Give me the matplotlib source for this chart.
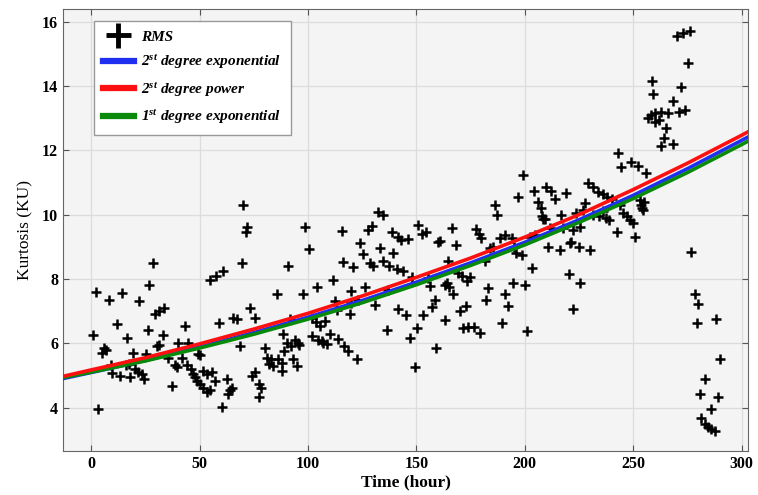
import numpy as np
import matplotlib
matplotlib.use("Agg")
import matplotlib.pyplot as plt

plt.rcParams["font.family"] = ["Liberation Serif", "DejaVu Serif"]
plt.rcParams["mathtext.default"] = "regular"

# RMS kurtosis readings (hour, KU)
rms_t = [
    1.1, 2.3, 3.4, 4.9, 5.8, 6.8, 8.4, 9.2, 9.5, 12.1, 14.1, 13.4, 16.4, 16.0, 17.3, 18.0, 19.2, 20.3, 21.8, 23.4,
    22.3, 24.4, 25.3, 26.4, 26.9, 28.4, 29.5, 31.5, 33.6, 30.4, 31.3, 33.3, 35.6, 37.2, 38.7, 39.5, 40.2, 41.8, 43.3, 44.9,
    44.0, 46.0, 47.0, 48.0, 49.5,
    50.2, 50.2, 51.5, 53.3, 51.6, 53.5, 55.6, 57.0, 48.7, 55.0, 54.8, 57.5, 60.7, 59.1, 60.2, 62.5, 64.0, 63.0, 64.8, 65.6,
    67.1, 68.7, 69.4, 70.2, 71.7, 71.5, 73.3, 75.6, 74.0, 75.5, 77.6, 78.4, 77.6, 80.0, 81.0, 82.0, 83.0, 84.0, 85.6, 86.3,
    87.9, 87.9, 89.0, 90.2, 90.9, 91.7, 94.0, 95.4, 88.5, 92.0, 96.0, 93.0, 95.0,
    98.6, 100.6, 97.8, 104.0, 101.7, 103.5, 105.5, 102.0, 104.5, 106.3, 108.0, 110.0, 107.0, 109.0, 111.4, 112.4, 113.2,
    114.0, 116.5, 118.6, 122.4, 115.5, 116.3, 119.4, 120.0, 123.0, 120.9, 120.0, 126.3, 124.0, 125.2, 127.8, 129.4, 128.6,
    130.1, 130.9, 133.2, 132.4, 134.4, 134.6, 137.5, 139.0, 141.0, 144.0, 138.6, 141.5, 143.0, 146.0, 136.3, 137.0, 141.6,
    145.2, 147.0, 148.2, 149.3,
    150.4, 150.8, 152.5, 154.4, 153.1, 155.4, 156.2, 157.0, 158.5, 159.0, 160.0, 161.0, 163.1, 163.9, 164.6, 166.2, 168.5,
    169.0, 171.0, 173.5, 174.7, 163.0, 165.0, 167.0, 170.0, 173.0, 171.4, 174.0, 176.5, 179.3, 177.7, 179.0, 180.0, 181.6,
    183.0, 182.3, 183.9, 185.4, 186.2, 187.0, 188.5, 190.8, 189.3, 190.8, 192.3, 193.9, 195.0, 196.0, 194.6, 196.9, 199.2,
    198.5,
    200.0, 201.2, 202.3, 204.6, 203.4, 204.3, 206.2, 207.5, 208.0, 208.5, 210.0, 212.0, 213.8, 209.2, 211.5, 210.7, 216.1,
    219.2, 220.7, 220.3, 222.3, 225.3, 216.9, 217.5, 229.0, 231.5, 233.6, 236.0, 238.0, 240.0, 227.6, 226.9, 223.8, 231.5,
    234.0, 236.0, 237.5, 239.0, 243.8, 245.5, 247.0, 248.4, 253.0, 254.5, 253.5, 222.2, 225.3, 242.3, 250.0, 250.7, 221.5,
    225.0, 230.0, 243.0, 244.5, 249.0, 252.0, 256.0,
    270.0, 273.0, 276.0, 275.3, 258.5, 259.0, 272.2, 268.3, 256.7, 258.0, 260.0, 263.0, 266.0, 271.0, 273.7, 260.0, 262.0,
    265.0, 264.0, 263.0, 268.5, 255.0, 254.0, 276.8, 278.3, 279.9, 279.4, 288.3, 289.9, 282.9, 280.9, 289.0, 286.0, 281.4,
    283.0, 284.5, 286.0, 287.6,
]
rms_ku = [
    6.26, 7.6, 3.96, 5.71, 5.85, 5.78, 7.33, 5.33, 5.06, 6.6, 7.57, 4.99, 6.15, 5.33, 5.37, 4.94, 5.71, 5.2, 5.1, 5.05,
    7.31, 4.9, 5.68, 6.4, 7.82, 8.49, 6.9, 7.0, 7.1, 5.92, 5.95, 6.26, 5.55, 4.68, 5.33, 5.25, 6.02, 5.55, 6.53, 6.02,
    5.33, 5.2, 5.05, 4.94, 5.66,
    5.63, 4.74, 4.6, 4.47, 5.15, 5.05, 5.1, 4.83, 4.83, 4.55, 7.96, 8.1, 8.24, 6.64, 4.01, 4.9, 4.55, 4.43, 4.6, 6.79,
    6.74, 5.92, 8.49, 10.3, 9.63, 9.47, 7.1, 6.78, 4.99, 5.1, 4.72, 4.6, 4.32, 5.86, 5.55, 5.35, 5.5, 5.3, 7.52, 5.5,
    5.4, 5.14, 5.76, 6.02, 8.39, 6.74, 6.1, 6.02, 6.3, 5.9, 5.95, 5.5, 5.3,
    9.63, 8.94, 7.54, 7.74, 6.79, 6.65, 6.53, 6.22, 6.1, 6.07, 6.7, 6.3, 6.0, 5.97, 7.98, 7.31, 7.02,
    6.13, 5.9, 5.76, 5.5, 9.5, 8.52, 6.92, 7.26, 7.33, 8.36, 7.62, 7.74, 9.11, 8.77, 9.53, 9.66, 8.49,
    8.39, 7.18, 8.96, 10.07, 9.99, 8.55, 8.4, 8.8, 8.3, 8.26, 9.47, 9.3, 9.2, 9.25, 6.4, 7.67, 7.08,
    6.88, 6.17, 8.05, 5.27,
    6.48, 9.69, 9.4, 9.45, 6.88, 8.03, 7.77, 7.12, 7.36, 5.84, 9.16, 9.19, 6.71, 7.87, 8.55, 9.58, 9.06,
    8.18, 8.1, 7.93, 8.05, 7.8, 7.75, 7.53, 7.0, 7.15, 6.48, 6.5, 6.5, 6.33, 9.55, 9.4, 9.27, 8.55,
    7.72, 7.36, 8.96, 9.0, 10.3, 9.99, 9.27, 9.37, 6.64, 7.52, 7.15, 9.27, 9.0, 8.8, 7.87, 10.56, 11.23,
    8.75,
    7.82, 6.38, 9.3, 9.37, 8.34, 10.73, 10.4, 10.2, 9.95, 9.88, 10.87, 10.75, 10.5, 9.88, 9.6, 9.0, 8.9,
    10.66, 9.11, 8.15, 7.05, 7.87, 10.0, 9.58, 10.97, 10.87, 10.71, 10.65, 10.55, 10.48, 10.35, 10.14, 10.04, 10.0,
    9.95, 10.1, 9.9, 9.84, 10.3, 10.05, 9.95, 9.84, 10.46, 10.15, 10.3, 9.53, 9.63, 9.47, 9.73, 9.29, 9.16,
    9.0, 8.9, 11.93, 11.48, 11.64, 11.5, 11.31,
    15.56, 15.65, 15.71, 14.73, 14.17, 13.75, 13.96, 13.55, 13.0, 13.1, 13.15, 13.2, 13.15, 13.2, 13.25, 12.87, 12.95,
    12.7, 12.4, 12.15, 12.2, 10.4, 10.2, 8.85, 7.52, 7.23, 6.64, 6.74, 5.5, 4.89, 4.42, 4.32, 3.96, 3.66,
    3.5, 3.4, 3.32, 3.27,
]

# fitted trend curves
fit_t = [-13, 0, 25, 50, 75, 100, 125, 150, 175, 200, 225, 250, 275, 300, 305]
exp2_ku = [4.90, 5.09, 5.46, 5.88, 6.33, 6.81, 7.33, 7.90, 8.50, 9.14, 9.84, 10.60, 11.43, 12.31, 12.49]
pow2_ku = [4.97, 5.17, 5.55, 5.98, 6.44, 6.93, 7.47, 8.05, 8.65, 9.30, 10.00, 10.78, 11.60, 12.47, 12.65]
exp1_ku = [4.93, 5.10, 5.45, 5.85, 6.28, 6.75, 7.26, 7.82, 8.42, 9.06, 9.76, 10.50, 11.31, 12.18, 12.36]

fig = plt.figure(figsize=(7.58, 4.95), dpi=100)
ax = fig.add_axes([0.083, 0.089, 0.904, 0.893])
ax.set_facecolor("#f4f4f4")

ax.plot(rms_t, rms_ku, ls="none", marker="+", ms=7, mew=1.8, color="black", label="RMS", zorder=3)
ax.plot(fit_t, exp2_ku, color="#1f2ff0", lw=2.6, label=r"2$^{st}$ degree exponential", zorder=4)
ax.plot(fit_t, pow2_ku, color="#ff1010", lw=2.6, label=r"2$^{st}$ degree power", zorder=5)
ax.plot(fit_t, exp1_ku, color="#0a8a0a", lw=2.6, label=r"1$^{st}$ degree exponential", zorder=4)

ax.set_xlim(-13, 303)
ax.set_ylim(2.65, 16.4)
ax.set_xticks(np.arange(0, 301, 50))
ax.set_yticks(np.arange(4, 17, 2))
ax.grid(True, color="#dcdcdc", lw=0.9)
ax.set_axisbelow(True)
ax.tick_params(direction="in", top=True, right=True, length=4, color="#555555", labelsize=11.5)
for lab in ax.get_xticklabels() + ax.get_yticklabels():
    lab.set_fontweight("bold")
for s in ax.spines.values():
    s.set_color("#666666")

ax.set_xlabel("Time (hour)", fontsize=12.5, fontweight="bold", labelpad=2)
ax.set_ylabel("Kurtosis (KU)", fontsize=12.5, labelpad=6)

leg = ax.legend(loc="upper left", bbox_to_anchor=(0.034, 0.99), fancybox=False, framealpha=1,
                edgecolor="#999999", prop={"style": "italic", "weight": "bold", "size": 11},
                handlelength=2.0, handletextpad=0.5, borderpad=0.6, labelspacing=0.6)
leg.legend_handles[0].set_markersize(18)
leg.legend_handles[0].set_markeredgewidth(3.5)
for h in leg.legend_handles[1:]:
    h.set_linewidth(4.5)

fig.savefig("out.png", dpi=100)
